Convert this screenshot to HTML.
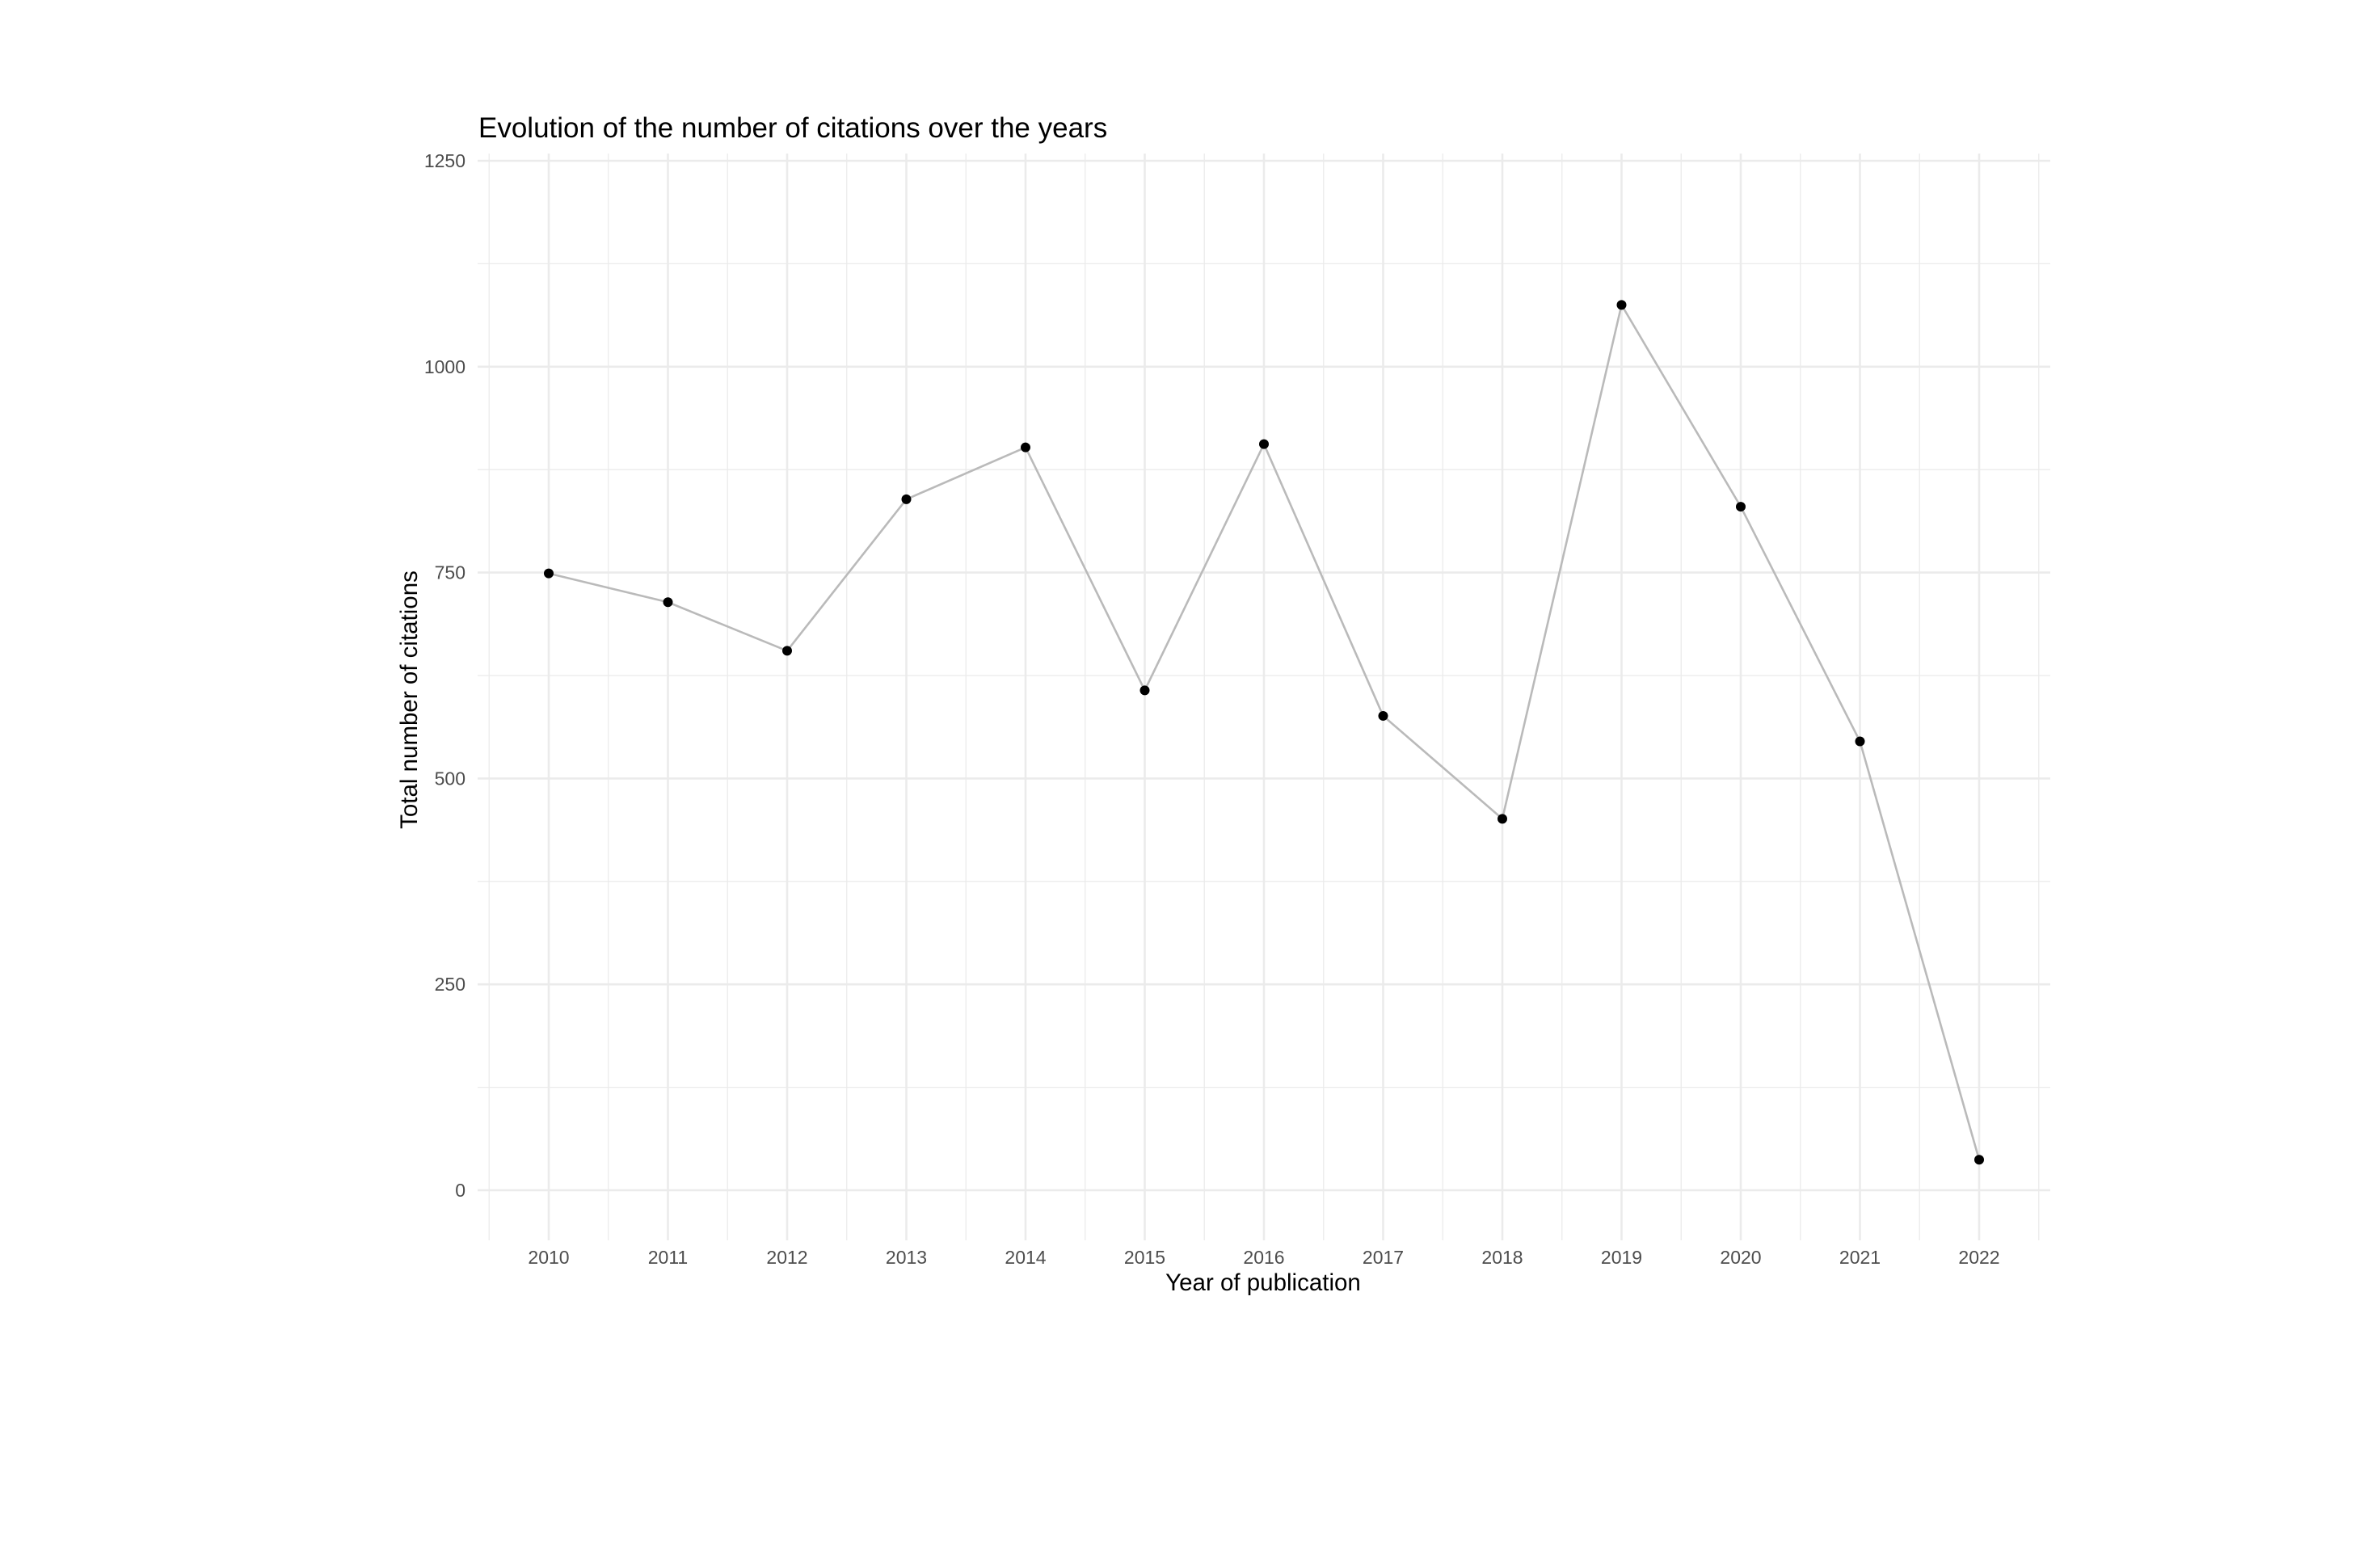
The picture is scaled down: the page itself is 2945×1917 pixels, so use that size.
<!DOCTYPE html>
<html><head><meta charset="utf-8"><style>
html,body{margin:0;padding:0;background:#fff;}
svg{display:block;font-family:"Liberation Sans",Arial,sans-serif;}
</style></head><body>
<svg id="chart" width="2945" height="1917" viewBox="0 0 2945 1917">
<text x="592" y="170" font-size="35" fill="#000">Evolution of the number of citations over the years</text>
<g id="grid"></g><g id="axes"></g><g id="series"></g>
<text x="1563" y="1597" font-size="29.5" fill="#000" text-anchor="middle">Year of publication</text>
<text x="0" y="0" font-size="29.5" fill="#000" text-anchor="middle" transform="translate(516,866) rotate(-90)">Total number of citations</text>
</svg>
<script>
const years = [2010,2011,2012,2013,2014,2015,2016,2017,2018,2019,2020,2021,2022];
const citations = [749,714,655,839,902,607,906,576,451,1075,830,545,37];
const yTicks = [0,250,500,750,1000,1250];
const NS="http://www.w3.org/2000/svg";
const L=591,R=2537,T=190,B=1535;
const x0=679,xStep=147.5;
function xs(yr){return x0+(yr-years[0])*xStep;}
function ys(v){return 1473-(v/1250)*(1473-199);}
function mk(tag,attrs,parent){const e=document.createElementNS(NS,tag);for(const k in attrs)e.setAttribute(k,attrs[k]);parent.appendChild(e);return e;}
const grid=document.getElementById('grid'),axes=document.getElementById('axes'),series=document.getElementById('series');
for(let i=0;i<yTicks.length-1;i++){
  const v=(yTicks[i]+yTicks[i+1])/2;
  const l=mk('line',{x1:L,x2:R,y1:ys(v),y2:ys(v),stroke:'#ebebeb','stroke-width':1.3},grid);
  
  
}
for(let i=-1;i<years.length;i++){
  const xv=x0+(i+0.5)*xStep;
  const l=mk('line',{x1:xv,x2:xv,y1:T,y2:B,stroke:'#ebebeb','stroke-width':1.3},grid);
  
  
}
yTicks.forEach(v=>{
  const l=mk('line',{x1:L,x2:R,y1:ys(v),y2:ys(v),stroke:'#ebebeb','stroke-width':2.6},grid);
  
  
  const t=mk('text',{x:576,y:ys(v)+8,'font-size':23,fill:'#4d4d4d','text-anchor':'end'},axes);
  t.textContent=v;
  
  
});
years.forEach(yr=>{
  const l=mk('line',{x1:xs(yr),x2:xs(yr),y1:T,y2:B,stroke:'#ebebeb','stroke-width':2.6},grid);
  
  
  const t=mk('text',{x:xs(yr),y:1564,'font-size':23,fill:'#4d4d4d','text-anchor':'middle'},axes);
  t.textContent=yr;
  
  
});
const pts=years.map((yr,i)=>xs(yr)+','+ys(citations[i])).join(' ');
const pl=mk('polyline',{points:pts,fill:'none',stroke:'#bababa','stroke-width':2.6},series);


years.forEach((yr,i)=>{
  const c=mk('circle',{cx:xs(yr),cy:ys(citations[i]),r:6,fill:'#000'},series);
  
  
});
</script>
</body></html>
